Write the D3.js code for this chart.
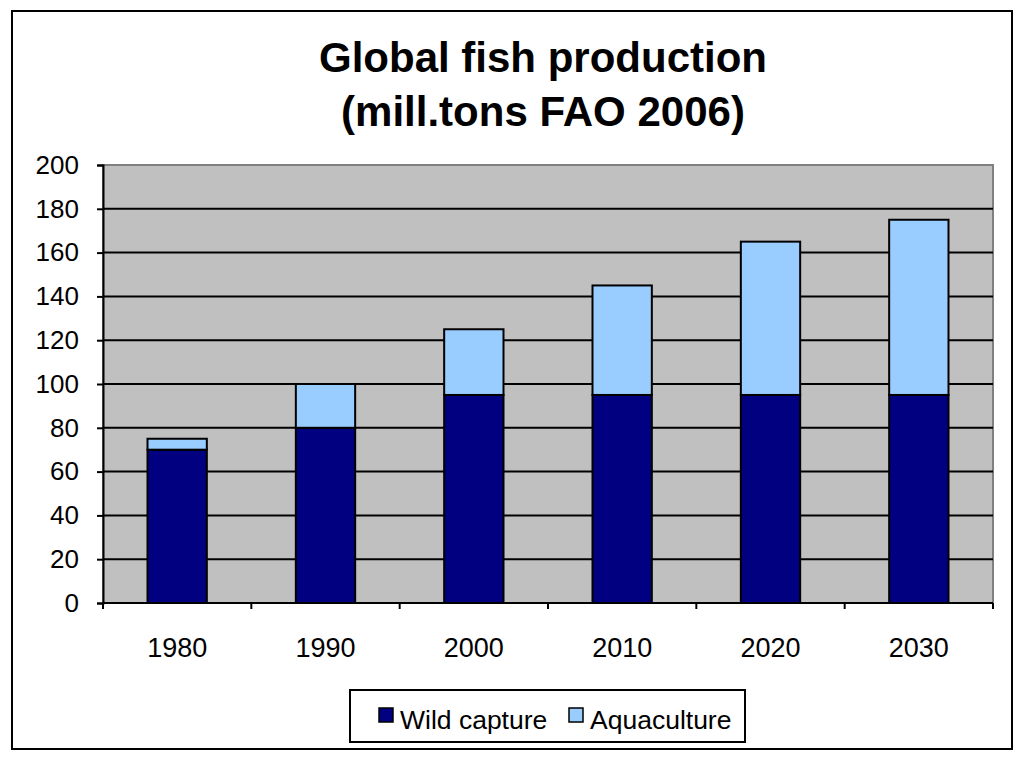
<!DOCTYPE html>
<html>
<head>
<meta charset="utf-8">
<script src="https://cdn.jsdelivr.net/npm/d3@7"></script>
<style>
  body { margin: 0; background: #fff; }
  svg { display: block; font-family: Arial, "Liberation Sans", sans-serif; }
</style>
</head>
<body>
<div id="chart"></div>
<script>
"use strict";

var years = ["1980", "1990", "2000", "2010", "2020", "2030"];
var wildCapture = [70, 80, 95, 95, 95, 95];
var aquaculture = [5, 20, 30, 50, 70, 80];
var seriesNames = ["Wild capture", "Aquaculture"];
var seriesColors = ["#000080", "#99ccff"];
var yTicks = [0, 20, 40, 60, 80, 100, 120, 140, 160, 180, 200];

var W = 1024, H = 762;
var plot = { left: 103, right: 993, top: 165, bottom: 603 };
var fontFam = "Arial, 'Liberation Sans', sans-serif";

var svg = d3.select("#chart").append("svg")
    .attr("width", W).attr("height", H);

svg.append("rect").attr("width", W).attr("height", H).attr("fill", "#fff");

// outer frame
svg.append("rect")
    .attr("x", 12).attr("y", 11).attr("width", 1000).attr("height", 738)
    .attr("fill", "none").attr("stroke", "#000").attr("stroke-width", 2);

// title
var title = svg.append("text")
    .attr("text-anchor", "middle")
    .attr("font-weight", "bold")
    .attr("font-size", 42)
    .attr("fill", "#000");
title.append("tspan").attr("x", 543).attr("y", 72).text("Global fish production");
title.append("tspan").attr("x", 543).attr("y", 126).text("(mill.tons FAO 2006)");

var x = d3.scaleBand().domain(years)
    .range([plot.left, plot.right])
    .paddingInner(0.6).paddingOuter(0.3);

var y = d3.scaleLinear().domain([0, 200]).range([plot.bottom, plot.top]);

// plot background
svg.append("rect")
    .attr("x", plot.left).attr("y", plot.top)
    .attr("width", plot.right - plot.left).attr("height", plot.bottom - plot.top)
    .attr("fill", "#c0c0c0").attr("stroke", "#808080").attr("stroke-width", 2);

// gridlines
svg.append("g").selectAll("line")
    .data(yTicks.filter(function (d) { return d > 0 && d < 200; }))
    .enter().append("line")
    .attr("x1", plot.left).attr("x2", plot.right)
    .attr("y1", function (d) { return y(d); })
    .attr("y2", function (d) { return y(d); })
    .attr("stroke", "#000").attr("stroke-width", 2);

// stacked bars
var rows = years.map(function (yr, i) {
    return { year: yr, "Wild capture": wildCapture[i], "Aquaculture": aquaculture[i] };
});
var stacked = d3.stack().keys(seriesNames)(rows);

svg.append("g").selectAll("g")
    .data(stacked)
    .enter().append("g")
    .attr("fill", function (d, i) { return seriesColors[i]; })
    .selectAll("rect")
    .data(function (d) { return d; })
    .enter().append("rect")
    .attr("x", function (d) { return x(d.data.year); })
    .attr("width", x.bandwidth())
    .attr("y", function (d) { return y(d[1]); })
    .attr("height", function (d) { return y(d[0]) - y(d[1]); })
    .attr("stroke", "#000").attr("stroke-width", 2);

// y axis
var yAxis = d3.axisLeft(y).tickValues(yTicks).tickSize(6).tickPadding(18);
var gy = svg.append("g")
    .attr("transform", "translate(" + plot.left + ",0)")
    .call(yAxis);
gy.attr("font-size", 26).attr("font-family", fontFam);
gy.select(".domain").attr("stroke", "#000").attr("stroke-width", 2);
gy.selectAll(".tick line").attr("stroke", "#000").attr("stroke-width", 2);
gy.selectAll(".tick text").attr("fill", "#000");

// x axis: ticks between categories
var xTickPos = d3.range(years.length + 1).map(function (i) {
    return plot.left + i * (plot.right - plot.left) / years.length;
});
var gx = svg.append("g");
gx.append("line")
    .attr("x1", plot.left).attr("x2", plot.right)
    .attr("y1", plot.bottom).attr("y2", plot.bottom)
    .attr("stroke", "#000").attr("stroke-width", 2);
gx.selectAll(".xt").data(xTickPos).enter().append("line")
    .attr("x1", function (d) { return d; }).attr("x2", function (d) { return d; })
    .attr("y1", plot.bottom).attr("y2", plot.bottom + 6)
    .attr("stroke", "#000").attr("stroke-width", 2);
gx.selectAll("text").data(years).enter().append("text")
    .attr("x", function (d) { return x(d) + x.bandwidth() / 2; })
    .attr("y", 657)
    .attr("text-anchor", "middle")
    .attr("font-size", 27)
    .text(function (d) { return d; });

// legend
var lg = svg.append("g");
lg.append("rect")
    .attr("x", 350).attr("y", 690).attr("width", 395).attr("height", 52)
    .attr("fill", "#fff").attr("stroke", "#000").attr("stroke-width", 2);
var legendX = [379, 569];
seriesNames.forEach(function (name, i) {
    lg.append("rect")
        .attr("x", legendX[i]).attr("y", 708)
        .attr("width", 14).attr("height", 14)
        .attr("fill", seriesColors[i]).attr("stroke", "#000").attr("stroke-width", 1.5);
    lg.append("text")
        .attr("x", legendX[i] + 21).attr("y", 729)
        .attr("font-size", 26.5)
        .text(name);
});
</script>
</body>
</html>
